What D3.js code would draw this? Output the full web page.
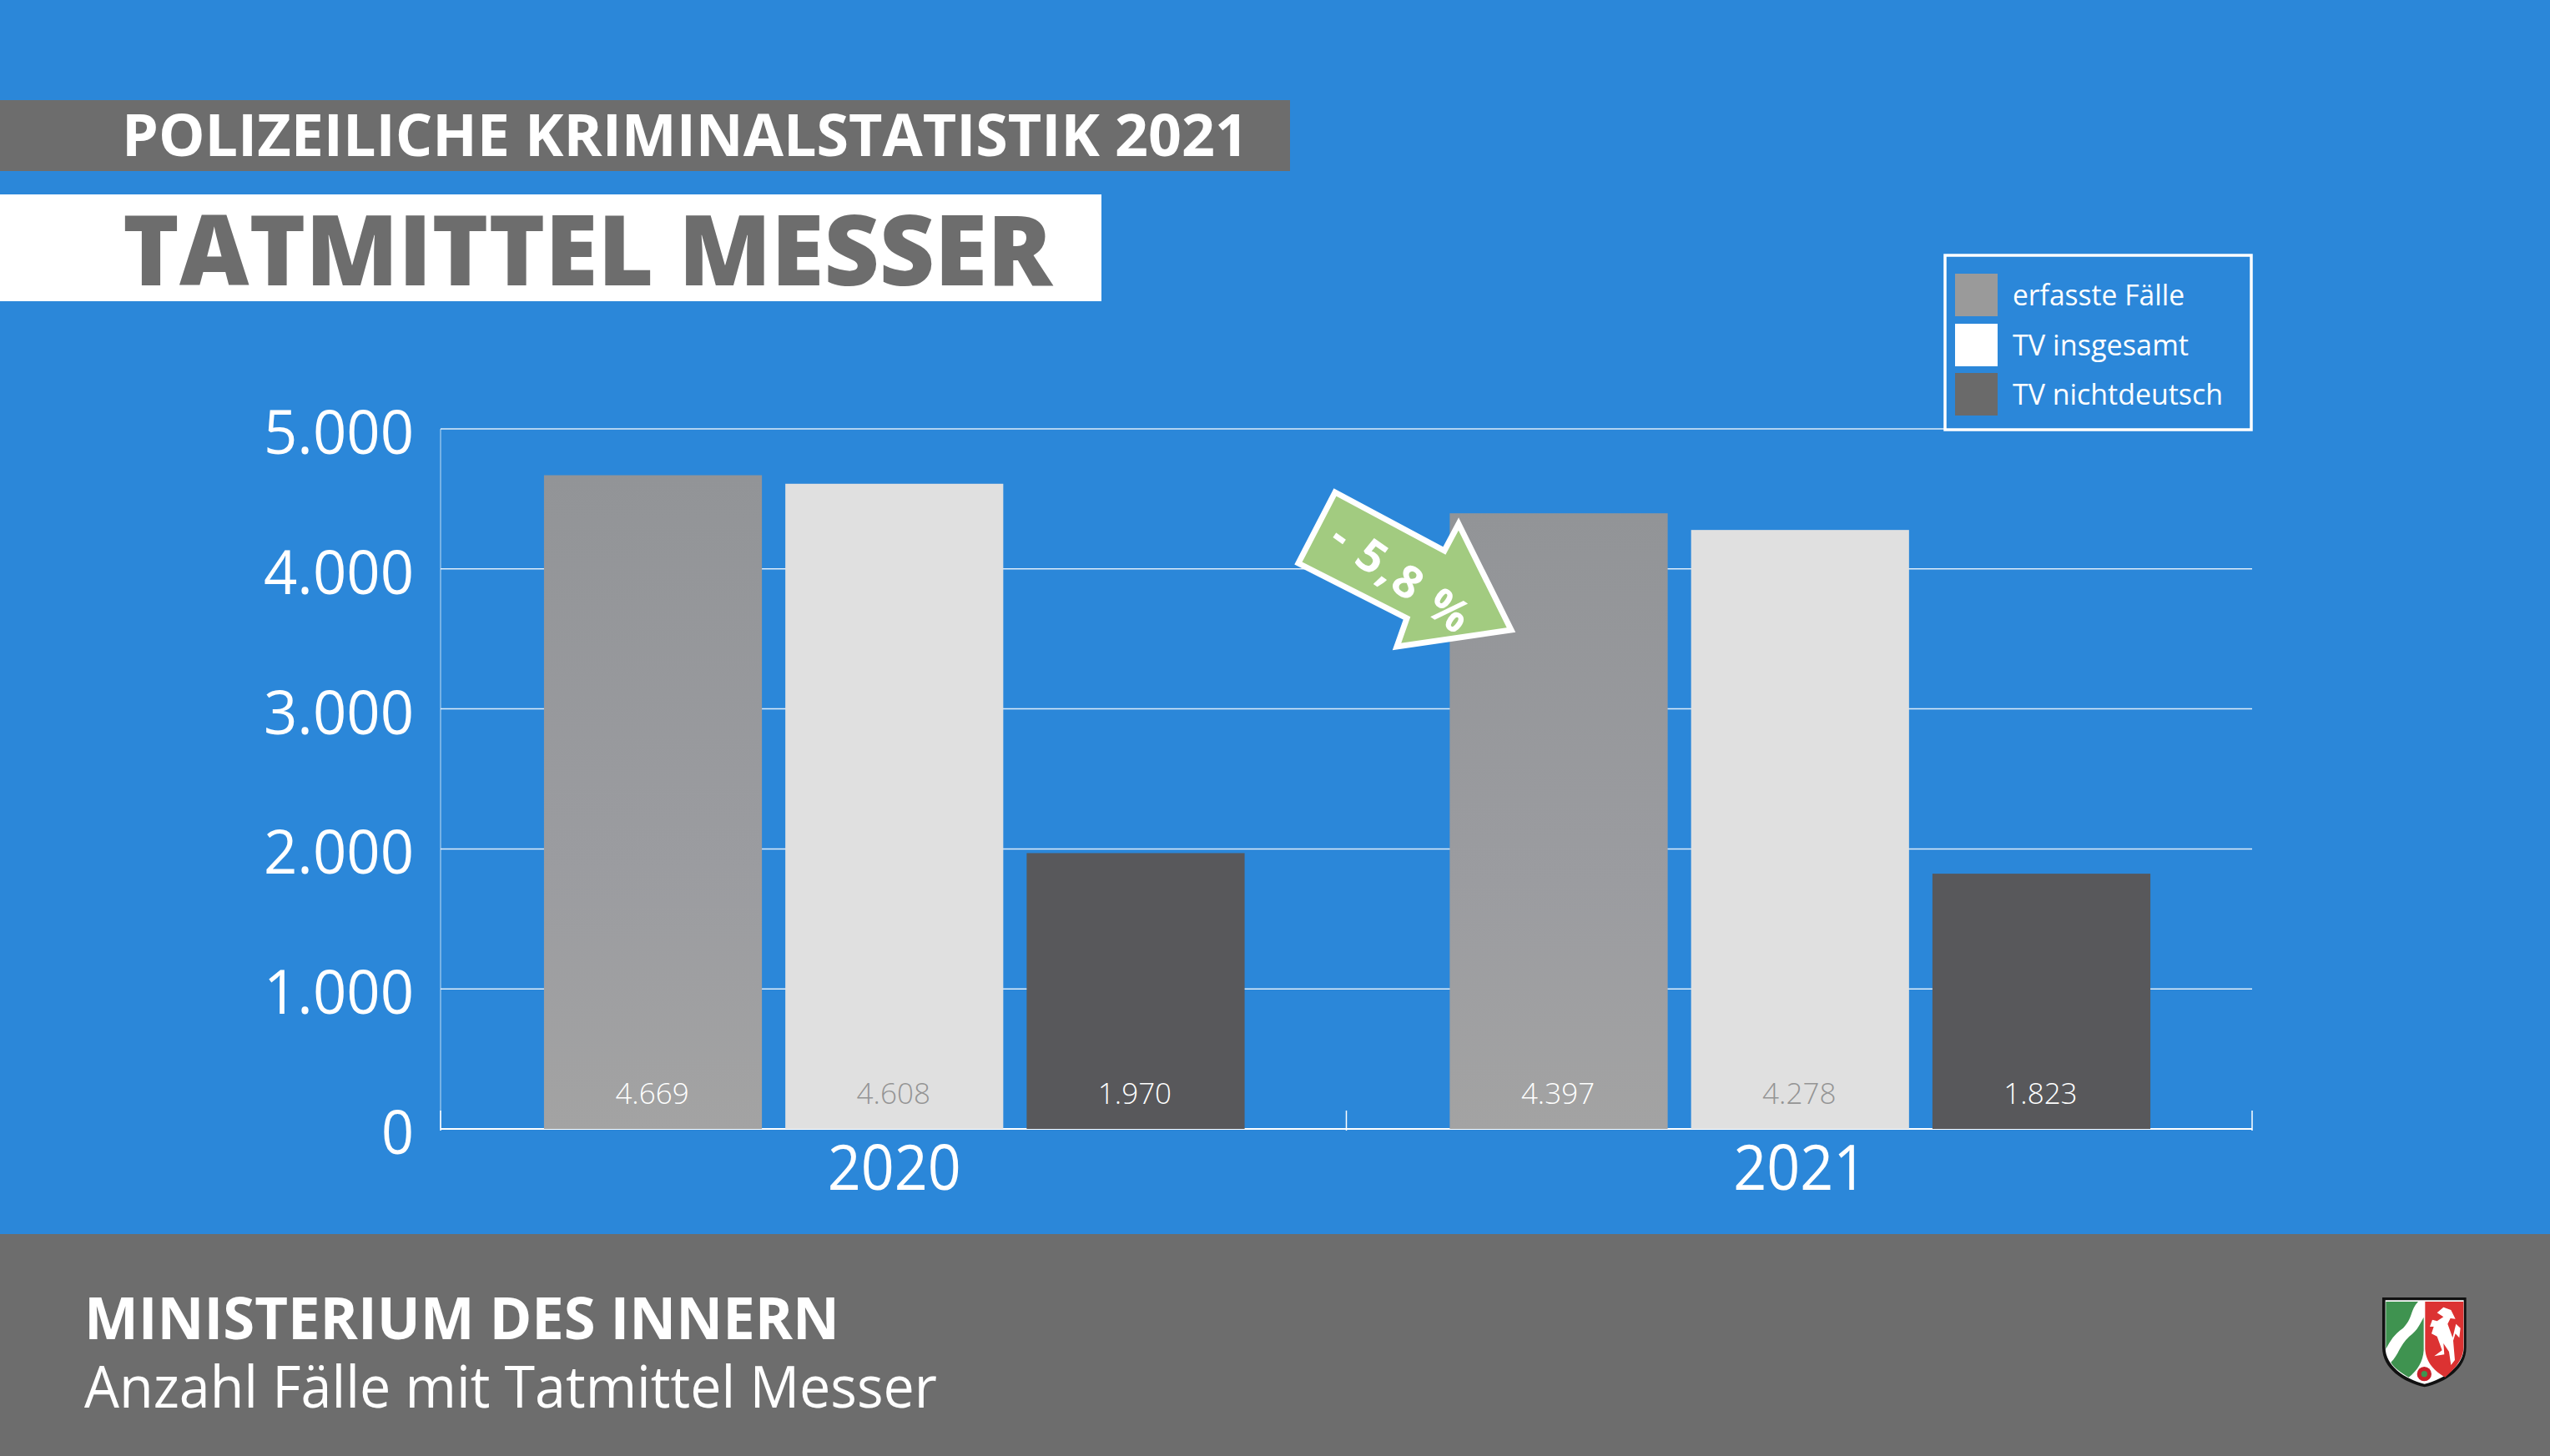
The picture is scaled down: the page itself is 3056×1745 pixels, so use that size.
<!DOCTYPE html>
<html lang="de"><head><meta charset="utf-8">
<script src="https://cdn.jsdelivr.net/npm/d3@7"></script>
<style>html,body{margin:0;padding:0;background:#2b87d9;overflow:hidden}svg{display:block}</style></head>
<body><div id="chart"></div>
<script>
const years = ["2020", "2021"];
const seriesNames = ["erfasste Fälle", "TV insgesamt", "TV nichtdeutsch"];
const erfassteFaelle = [4669, 4397];
const tvInsgesamt = [4608, 4278];
const tvNichtdeutsch = [1970, 1823];
const yTicks = [0, 1000, 2000, 3000, 4000, 5000];
const changeLabel = "- 5,8 %";
const headerTop = "POLIZEILICHE KRIMINALSTATISTIK 2021";
const headerMain = "TATMITTEL MESSER";
const footerTop = "MINISTERIUM DES INNERN";
const footerSub = "Anzahl Fälle mit Tatmittel Messer";

const W = 3056, H = 1745;
const svg = d3.select("#chart").append("svg").attr("width", W).attr("height", H);
const font = "'Open Sans', sans-serif";
const gray = "#6d6d6d";

const defs = svg.append("defs");
const g1 = defs.append("linearGradient").attr("id", "barGray").attr("x1", 0).attr("x2", 0).attr("y1", 0).attr("y2", 1);
g1.append("stop").attr("offset", 0).attr("stop-color", "#929497");
g1.append("stop").attr("offset", 0.6).attr("stop-color", "#9b9ca0");
g1.append("stop").attr("offset", 1).attr("stop-color", "#a3a3a3");

svg.append("rect").attr("width", W).attr("height", H).attr("fill", "#2b87d9");

// header bands
svg.append("rect").attr("x", 0).attr("y", 120).attr("width", 1546).attr("height", 85).attr("fill", gray);
svg.append("rect").attr("x", 0).attr("y", 233).attr("width", 1320).attr("height", 128).attr("fill", "#fff");
svg.append("text").text(headerTop).attr("x", 146).attr("y", 187).attr("font-family", font).attr("font-weight", 700)
  .attr("font-size", 70).attr("fill", "#fff").attr("textLength", 1350).attr("lengthAdjust", "spacingAndGlyphs");
svg.append("text").text(headerMain).attr("x", 147).attr("y", 342).attr("font-family", font).attr("font-weight", 800)
  .attr("font-size", 117).attr("fill", gray).attr("textLength", 1114).attr("lengthAdjust", "spacingAndGlyphs");

// scales
const x0 = d3.scaleBand().domain(years).range([528, 2699]);
const x1 = d3.scaleBand().domain(seriesNames).range([1, x0.bandwidth() + 1]).paddingInner(0.097).paddingOuter(0.425);
const y = d3.scaleLinear().domain([0, 5000]).range([1353, 514]);

// grid
svg.append("g").selectAll("line").data(yTicks).join("line")
  .attr("x1", 528).attr("x2", 2699).attr("y1", d => y(d)).attr("y2", d => y(d))
  .attr("stroke", "#fff").attr("stroke-opacity", d => d === 0 ? 1 : 0.85).attr("stroke-width", d => d === 0 ? 2 : 1.5);
svg.append("line").attr("x1", 528).attr("x2", 528).attr("y1", 514).attr("y2", 1353).attr("stroke", "#fff").attr("stroke-opacity", 0.7).attr("stroke-width", 1);
// category ticks
svg.append("g").selectAll("line").data([528, 1613.5, 2699]).join("line")
  .attr("x1", d => d).attr("x2", d => d).attr("y1", 1331).attr("y2", 1355).attr("stroke", "#fff").attr("stroke-width", 1.5);

// y labels
svg.append("g").selectAll("text").data(yTicks).join("text")
  .text(d => d === 0 ? "0" : d3.format(",")(d).replace(",", "."))
  .attr("x", 496).attr("y", d => y(d)).attr("dy", 30).attr("text-anchor", "end")
  .attr("font-family", font).attr("font-weight", 400).attr("font-size", 74).attr("fill", "#fff")
  .attr("textLength", d => d === 0 ? 39 : 180).attr("lengthAdjust", "spacingAndGlyphs");

// bars
const seriesValues = [erfassteFaelle, tvInsgesamt, tvNichtdeutsch];
const fills = ["url(#barGray)", "#e0e0e0", "#58585b"];
const labelFills = ["#fff", "#949494", "#fff"];
const flat = [];
years.forEach((yr, i) => seriesNames.forEach((s, j) => flat.push({yr, s, j, v: seriesValues[j][i]})));
const bars = svg.append("g");
bars.selectAll("rect").data(flat).join("rect")
  .attr("x", d => x0(d.yr) + x1(d.s)).attr("width", x1.bandwidth())
  .attr("y", d => y(d.v)).attr("height", d => y(0) - y(d.v))
  .attr("fill", d => fills[d.j]);
bars.selectAll("text").data(flat).join("text")
  .text(d => d3.format(",")(d.v).replace(",", "."))
  .attr("x", d => x0(d.yr) + x1(d.s) + x1.bandwidth() / 2 - 1).attr("y", 1323).attr("text-anchor", "middle")
  .attr("font-family", font).attr("font-weight", 300).attr("font-size", 35).attr("fill", d => labelFills[d.j]);

// category labels
svg.append("g").selectAll("text").data(years).join("text").text(d => d)
  .attr("x", d => x0(d) + x0.bandwidth() / 2 + 1).attr("y", 1426).attr("text-anchor", "middle")
  .attr("font-family", font).attr("font-weight", 400).attr("font-size", 75).attr("fill", "#fff")
  .attr("textLength", 160).attr("lengthAdjust", "spacingAndGlyphs");

// legend
svg.append("rect").attr("x", 2331).attr("y", 306).attr("width", 367).attr("height", 209)
  .attr("fill", "#2b87d9").attr("stroke", "#fff").attr("stroke-width", 3.5);
const legendFills = ["#9a9a9a", "#fff", "#6a6a6a"];
const legend = svg.append("g").selectAll("g").data(seriesNames).join("g")
  .attr("transform", (d, i) => `translate(2343,${[328, 388, 447][i]})`);
legend.append("rect").attr("width", 51).attr("height", 51).attr("fill", (d, i) => legendFills[i]);
legend.append("text").text(d => d).attr("x", 69).attr("y", 38)
  .attr("font-family", font).attr("font-weight", 400).attr("font-size", 34).attr("fill", "#fff")
  .attr("textLength", (d, i) => [206, 211, 252][i]).attr("lengthAdjust", "spacingAndGlyphs");

// arrow
svg.append("polygon")
  .attr("points", "1600,590 1731,660 1748,628 1811,755 1674,775 1686,741 1556,675")
  .attr("fill", "#a2cb80").attr("stroke", "#fff").attr("stroke-width", 7);
svg.append("text").text(changeLabel)
  .attr("transform", "translate(1678,692) rotate(35)").attr("text-anchor", "middle").attr("dy", 18)
  .attr("font-family", font).attr("font-weight", 700).attr("font-size", 54).attr("fill", "#fff")
  .attr("textLength", 190).attr("lengthAdjust", "spacing");

// footer
svg.append("rect").attr("x", 0).attr("y", 1479).attr("width", W).attr("height", H - 1479).attr("fill", gray);
svg.append("text").text(footerTop).attr("x", 101).attr("y", 1605).attr("font-family", font).attr("font-weight", 700)
  .attr("font-size", 70).attr("fill", "#fff").attr("textLength", 905).attr("lengthAdjust", "spacingAndGlyphs");
svg.append("text").text(footerSub).attr("x", 101).attr("y", 1687).attr("font-family", font).attr("font-weight", 400)
  .attr("font-size", 70).attr("fill", "#fff").attr("textLength", 1022).attr("lengthAdjust", "spacingAndGlyphs");

// coat of arms (decorative)
const crest = svg.append("g").attr("transform", "translate(2800,1520) scale(0.3333)");
crest.append("path").attr("d", "M165,105H467V285C467,360 395,410 317,427C240,410 165,360 165,285Z").attr("fill", "#111");
crest.append("path").attr("d", "M176,115H458V285C458,350 390,398 317,416C244,398 176,350 176,285Z").attr("fill", "#fff");
crest.append("path").attr("d", "M178,120H294C265,150 275,180 240,215C205,240 195,260 178,290Z").attr("fill", "#3f9350");
crest.append("path").attr("d", "M314,176V295C312,335 290,370 260,392C230,375 205,355 196,338C225,310 225,280 262,245C295,220 300,200 314,176Z").attr("fill", "#3f9350");
crest.append("path").attr("d", "M319,120H457V285C457,335 410,375 391,392C355,370 322,340 319,290Z").attr("fill", "#dc3232");
crest.append("path").attr("d", "M362,160L385,140L412,150L428,182L410,180L400,200L418,250L430,200L446,215L442,250L428,235L420,260L426,330L412,348L405,300L385,270L388,310L352,316L380,295L362,245L342,235L350,210L336,210L345,185L362,190L385,175Z").attr("fill", "#fff");
crest.append("circle").attr("cx", 316).attr("cy", 380).attr("r", 26).attr("fill", "#c8202a");
crest.append("circle").attr("cx", 316).attr("cy", 380).attr("r", 11).attr("fill", "#3f9350");
</script></body></html>
